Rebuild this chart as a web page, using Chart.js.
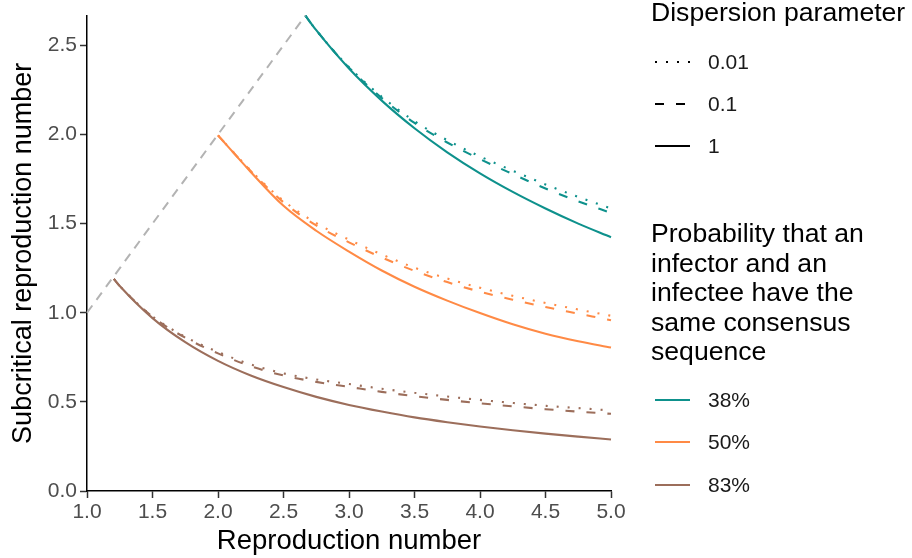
<!DOCTYPE html>
<html lang="en">
<head>
<meta charset="UTF-8">
<title>Subcritical reproduction number</title>
<script src="https://cdn.jsdelivr.net/npm/chart.js"></script>
<style>
  body { margin: 0; background: #fff; font-family: 'Liberation Sans', Arial, sans-serif; }
  .wrap { position: relative; width: 912px; height: 558px; }
  canvas { position: absolute; left: 0; top: 0; }
  .legend-title { position: absolute; left: 651px; font-size: 26.6px; line-height: 29.5px; color: #000; white-space: nowrap; }
  .legend-item { position: absolute; left: 655px; height: 24px; display: flex; align-items: center; font-size: 21px; line-height: 24px; color: #1a1a1a; }
  .legend-item svg { width: 35px; height: 24px; margin-right: 18px; }
</style>
</head>
<body>

<div class="wrap">
    <canvas id="chart" width="912" height="558"></canvas>

    <div class="legend-title" style="top:-2px">Dispersion parameter</div>
    <div class="legend-item" style="top:50px">
        <svg><line x1="0" y1="12" x2="35" y2="12" stroke="#000" stroke-width="2.2" stroke-dasharray="2 9"/></svg>0.01
    </div>
    <div class="legend-item" style="top:92px">
        <svg><line x1="0" y1="12" x2="35" y2="12" stroke="#000" stroke-width="2.2" stroke-dasharray="9 12"/></svg>0.1
    </div>
    <div class="legend-item" style="top:134px">
        <svg><line x1="0" y1="12" x2="35" y2="12" stroke="#000" stroke-width="2.2"/></svg>1
    </div>

    <div class="legend-title" style="top:219px">Probability that an<br>infector and an<br>infectee have the<br>same consensus<br>sequence</div>
    <div class="legend-item" style="top:388px">
        <svg><line x1="0" y1="12" x2="35" y2="12" stroke="#0e918c" stroke-width="2.2"/></svg>38%
    </div>
    <div class="legend-item" style="top:430px">
        <svg><line x1="0" y1="12" x2="35" y2="12" stroke="#ff8a45" stroke-width="2.2"/></svg>50%
    </div>
    <div class="legend-item" style="top:473px">
        <svg><line x1="0" y1="12" x2="35" y2="12" stroke="#9c6e5b" stroke-width="2.2"/></svg>83%
    </div>
</div>

<script>
    // reproduction number grids (curves start where R = 1/p)
    const r83 = [1.205, 1.25, 1.5, 1.75, 2.0, 2.25, 2.5, 2.75, 3.0, 3.25, 3.5, 3.75, 4.0, 4.25, 4.5, 4.75, 5.0];
    const r50 = [2.0, 2.25, 2.5, 2.75, 3.0, 3.25, 3.5, 3.75, 4.0, 4.25, 4.5, 4.75, 5.0];
    const r38 = [2.667, 2.75, 3.0, 3.25, 3.5, 3.75, 4.0, 4.25, 4.5, 4.75, 5.0];

    // subcritical reproduction number, 83%
    const p83k1   = [1.19, 1.15, 0.97, 0.835, 0.73, 0.648, 0.583, 0.528, 0.483, 0.446, 0.413, 0.386, 0.362, 0.341, 0.322, 0.305, 0.289];
    const p83k01  = [1.19, 1.15, 0.978, 0.86, 0.772, 0.70, 0.648, 0.612, 0.584, 0.556, 0.532, 0.511, 0.492, 0.475, 0.459, 0.445, 0.433];
    const p83k001 = [1.19, 1.15, 0.98, 0.865, 0.78, 0.71, 0.66, 0.626, 0.600, 0.574, 0.551, 0.530, 0.511, 0.494, 0.478, 0.465, 0.452];

    // 50%
    const p50k1   = [1.995, 1.79, 1.60, 1.46, 1.343, 1.237, 1.146, 1.068, 0.998, 0.935, 0.882, 0.84, 0.805];
    const p50k01  = [1.995, 1.795, 1.62, 1.49, 1.395, 1.31, 1.235, 1.172, 1.118, 1.073, 1.032, 0.995, 0.958];
    const p50k001 = [1.995, 1.798, 1.628, 1.503, 1.41, 1.327, 1.253, 1.192, 1.14, 1.095, 1.055, 1.018, 0.983];

    // 38%
    const p38k1   = [2.667, 2.585, 2.37, 2.19, 2.035, 1.90, 1.782, 1.678, 1.585, 1.50, 1.424];
    const p38k01  = [2.667, 2.585, 2.375, 2.205, 2.065, 1.955, 1.862, 1.778, 1.697, 1.625, 1.56];
    const p38k001 = [2.667, 2.585, 2.378, 2.212, 2.075, 1.968, 1.877, 1.797, 1.72, 1.65, 1.585];

    // y = x guide
    const guideX = [1.0, 2.667];
    const guideY = [1.0, 2.667];

    const teal = '#0e918c', orange = '#ff8a45', brown = '#9c6e5b';
    const DOTTED = [2, 9], DASHED = [9, 12];

    function pts(xs, ys) {
        return xs.map((x, i) => ({ x: x, y: ys[i] }));
    }

    function curve(xs, ys, color, dash) {
        return {
            data: pts(xs, ys),
            borderColor: color,
            borderWidth: 2.1,
            borderDash: dash,
            pointRadius: 0,
            cubicInterpolationMode: 'monotone',
            fill: false,
            clip: false
        };
    }

    const datasets = [
        curve(guideX, guideY, '#b3b3b3', [9, 7]),
        curve(r83, p83k1, brown, []),
        curve(r83, p83k01, brown, DASHED),
        curve(r83, p83k001, brown, DOTTED),
        curve(r50, p50k1, orange, []),
        curve(r50, p50k01, orange, DASHED),
        curve(r50, p50k001, orange, DOTTED),
        curve(r38, p38k1, teal, []),
        curve(r38, p38k01, teal, DASHED),
        curve(r38, p38k001, teal, DOTTED)
    ];
    datasets[0].borderWidth = 2;

    const font = "'Liberation Sans', Arial, sans-serif";

    new Chart(document.getElementById('chart').getContext('2d'), {
        type: 'line',
        data: { datasets: datasets },
        options: {
            responsive: false,
            animation: false,
            devicePixelRatio: 1,
            layout: { padding: { left: 0, right: 301, top: 15, bottom: 0 } },
            plugins: { legend: { display: false }, tooltip: { enabled: false } },
            scales: {
                x: {
                    type: 'linear',
                    min: 1, max: 5,
                    afterFit: s => { s.height = 67; },
                    ticks: {
                        stepSize: 0.5,
                        callback: v => v.toFixed(1),
                        font: { family: font, size: 21 },
                        color: '#4d4d4d',
                        padding: 2,
                        maxRotation: 0
                    },
                    grid: { drawOnChartArea: false, tickLength: 7, tickColor: '#333', tickWidth: 1.5 },
                    border: { color: '#000', width: 1.5 },
                    title: {
                        display: true,
                        text: 'Reproduction number',
                        font: { family: font, size: 27.5 },
                        color: '#000',
                        padding: { top: 0, bottom: 0 }
                    }
                },
                y: {
                    min: 0, max: 2.667,
                    afterFit: s => { s.width = 87; },
                    afterBuildTicks: s => {
                        s.ticks = s.ticks.filter(t => Math.abs(t.value * 2 - Math.round(t.value * 2)) < 1e-6);
                    },
                    ticks: {
                        stepSize: 0.5,
                        callback: v => v.toFixed(1),
                        font: { family: font, size: 21 },
                        color: '#4d4d4d',
                        padding: 3
                    },
                    grid: { drawOnChartArea: false, tickLength: 7, tickColor: '#333', tickWidth: 1.5 },
                    border: { color: '#000', width: 1.5 },
                    title: {
                        display: true,
                        text: 'Subcritical reproduction number',
                        font: { family: font, size: 27 },
                        color: '#000',
                        padding: { top: 7, bottom: 0 }
                    }
                }
            }
        }
    });
</script>

</body>
</html>
